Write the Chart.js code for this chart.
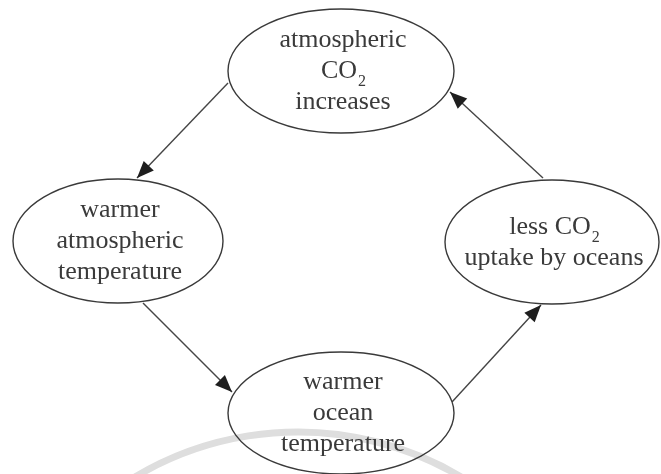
<!DOCTYPE html>
<html>
<head>
<meta charset="utf-8">
<script src="https://cdn.jsdelivr.net/npm/chart.js@4.4.1/dist/chart.umd.min.js"></script>
<style>
  html, body { margin: 0; padding: 0; background: #fff; }
  #wrap { width: 661px; height: 474px; position: relative; }
</style>
</head>
<body>
<div id="wrap"><canvas id="myChart"></canvas></div>
<script>
// nodes of the cycle ({2} = subscript)
var nodeLabels = [
    ['atmospheric', 'CO{2}', 'increases'],
    ['warmer', 'atmospheric', 'temperature'],
    ['warmer', 'ocean', 'temperature'],
    ['less CO{2}', 'uptake by oceans']
];
var nodeX = [341, 118, 341, 552];
var nodeY = [71, 241, 413, 242];
var nodeRx = [113, 105, 113, 107];
var nodeRy = [62, 62, 61, 62];

// arrows: start point -> tip
var arrowFromX = [228, 143, 452, 543];
var arrowFromY = [83, 303, 402, 178];
var arrowToX = [137, 232, 541, 450];
var arrowToY = [178, 392, 305, 92];

var ink = '#3a3a3a';

var ctx = document.getElementById('myChart').getContext('2d');

var arrowSets = [];
for (var i = 0; i < arrowFromX.length; i++) {
    arrowSets.push({
        data: [{x: arrowFromX[i], y: arrowFromY[i]}, {x: arrowToX[i], y: arrowToY[i]}],
        showLine: true,
        borderColor: '#454545',
        borderWidth: 1.4,
        pointRadius: 0,
        fill: false
    });
}

drawLine = function(c, str, x, y, size){
    // split "CO{2}" into main text + subscript
    var m = str.match(/^(.*?)\{(.*?)\}(.*)$/);
    var main = m ? m[1] : str;
    var sub = m ? m[2] : '';
    var fam = 'px "Liberation Serif", "Times New Roman", serif';
    c.font = size + fam;
    var w1 = c.measureText(main).width;
    c.font = Math.round(size * 0.6) + fam;
    var w2 = sub ? c.measureText(sub).width : 0;
    var left = x - (w1 + w2) / 2;
    c.textAlign = 'left';
    c.textBaseline = 'alphabetic';
    c.font = size + fam;
    c.fillText(main, left, y);
    if (sub) {
        c.font = Math.round(size * 0.6) + fam;
        c.fillText(sub, left + w1 + 1, y + 8);
    }
}

var diagramPlugin = {
    id: 'diagram',
    beforeDatasetsDraw: function(chart){
        var c = chart.ctx, xs = chart.scales.x, ys = chart.scales.y;
        // faint watermark arc at the bottom
        c.save();
        c.strokeStyle = '#dedede';
        c.lineWidth = 7;
        c.beginPath();
        var r = xs.getPixelForValue(318) - xs.getPixelForValue(0);
        c.arc(xs.getPixelForValue(298), ys.getPixelForValue(750), r, Math.PI * 1.2, Math.PI * 1.8);
        c.stroke();
        c.restore();
    },
    afterDatasetsDraw: function(chart){
        var c = chart.ctx, xs = chart.scales.x, ys = chart.scales.y;
        c.save();
        // arrow heads
        for (var i = 0; i < arrowToX.length; i++) {
            var tx = xs.getPixelForValue(arrowToX[i]), ty = ys.getPixelForValue(arrowToY[i]);
            var fx = xs.getPixelForValue(arrowFromX[i]), fy = ys.getPixelForValue(arrowFromY[i]);
            var a = Math.atan2(ty - fy, tx - fx);
            var len = 17, half = 7;
            var bx = tx - len * Math.cos(a), by = ty - len * Math.sin(a);
            c.fillStyle = '#1e1e1e';
            c.beginPath();
            c.moveTo(tx, ty);
            c.lineTo(bx + half * Math.sin(a), by - half * Math.cos(a));
            c.lineTo(bx - half * Math.sin(a), by + half * Math.cos(a));
            c.closePath();
            c.fill();
        }
        // ellipses + labels
        for (var j = 0; j < nodeX.length; j++) {
            var cx = xs.getPixelForValue(nodeX[j]), cy = ys.getPixelForValue(nodeY[j]);
            var rx = xs.getPixelForValue(nodeX[j] + nodeRx[j]) - cx;
            var ry = ys.getPixelForValue(nodeY[j] + nodeRy[j]) - cy;
            c.beginPath();
            c.ellipse(cx, cy, Math.abs(rx), Math.abs(ry), 0, 0, Math.PI * 2);
            c.strokeStyle = '#3a3a3a';
            c.lineWidth = 1.4;
            c.stroke();
            var lines = nodeLabels[j];
            c.fillStyle = ink;
            for (var k = 0; k < lines.length; k++) {
                var ly = cy + (k - (lines.length - 1) / 2) * 31 + 7;
                drawLine(c, lines[k], cx + 2, ly, 26);
            }
        }
        c.restore();
    }
};

var myChart = new Chart(ctx, {
    type: 'scatter',
    data: { datasets: arrowSets },
    options: {
        responsive: true,
        maintainAspectRatio: false,
        animation: false,
        layout: { padding: 0 },
        plugins: { legend: { display: false }, tooltip: { enabled: false } },
        scales: {
            x: { type: 'linear', min: 0, max: 661, display: false },
            y: { type: 'linear', min: 0, max: 474, reverse: true, display: false }
        }
    },
    plugins: [diagramPlugin]
});
</script>
</body>
</html>
